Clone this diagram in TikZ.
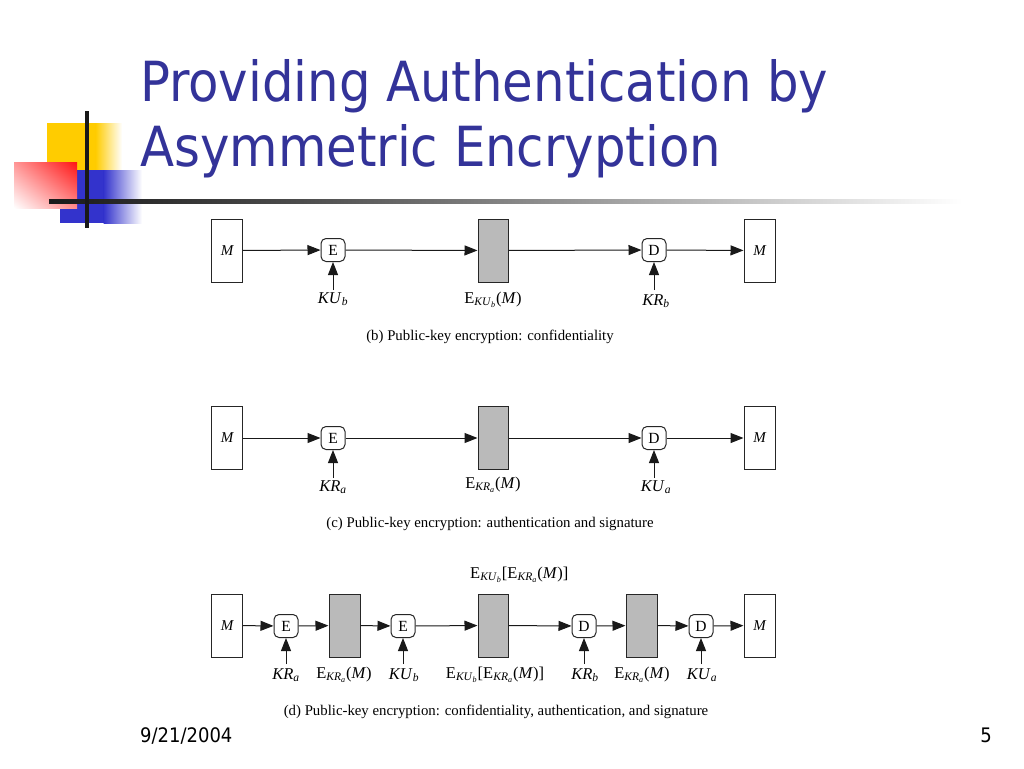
\documentclass[tikz,border=0pt]{standalone}
\usepackage{fontspec}
\setmainfont{Liberation Serif}
\newfontfamily\tahoma{DejaVu Sans Condensed}
\usetikzlibrary{arrows.meta,shadings}
\definecolor{titleblue}{RGB}{51,51,153}
\definecolor{decoyellow}{RGB}{255,204,0}
\definecolor{decoblue}{RGB}{51,51,204}
\definecolor{decored}{RGB}{255,20,20}
\newcommand\ii[1]{\textit{#1}}
\newcommand\sbs[1]{\textsubscript{#1}}
\tikzset{
  x=1pt, y=-1pt,
  msgbox/.style={draw=black!85, line width=1pt, minimum width=31pt, minimum height=63pt, inner sep=0pt, font=\fontsize{15}{15}\selectfont\itshape},
  cipher/.style={draw=black!85, line width=1pt, fill=black!27, minimum width=30pt, minimum height=63pt, inner sep=0pt},
  opnode/.style={draw=black!85, line width=1pt, fill=white, rounded corners=5pt, minimum width=24pt, minimum height=23pt, inner sep=0pt, font=\fontsize{15.5}{15}\selectfont},
  keylab/.style={anchor=base, font=\fontsize{16.5}{16}\selectfont, inner sep=0pt},
  caption/.style={anchor=base, font=\fontsize{14.8}{15}\selectfont, inner sep=0pt},
  flow/.style={draw=black!90, line width=1pt, -{Triangle[length=13pt,width=10pt]}},
}
\begin{document}
\begin{tikzpicture}
\useasboundingbox (0,0) rectangle (1024,768);
\fill[white] (0,0) rectangle (1024,768);
% decoration
\fill[decoyellow] (47,123) rectangle (96,170);
\shade[left color=decoyellow, right color=white] (95.5,123) rectangle (122,170);
\fill[decoblue] (60,170) rectangle (104,223);
\shade[left color=decoblue, right color=white] (103.5,170) rectangle (142,223);
\shade[upper left=decored!45!white, upper right=decored, lower left=white, lower right=decored!50!white] (14,162) rectangle (77,208);
\shade[left color=black!90, right color=black!70] (49,199) rectangle (300,203);
\shade[left color=black!70, right color=white] (299.5,199) rectangle (962,203);
\fill[black!90] (85,111) rectangle (89,228);
% title
\node[anchor=base west, inner sep=0pt, text=titleblue, font=\tahoma\fontsize{55.3}{55}\selectfont] (t1) at (140,101) {Providing Authentication by};
\node[anchor=base west, inner sep=0pt, text=titleblue, font=\tahoma\fontsize{55.3}{55}\selectfont] (t2) at (140,166) {Asymmetric Encryption};
\node[anchor=base west, inner sep=0pt, font=\tahoma\fontsize{20}{20}\selectfont] (date) at (140,742) {9/21/2004};
\node[anchor=base east, inner sep=0pt, font=\tahoma\fontsize{20}{20}\selectfont] (page) at (992,742) {5};

% (b)
\node[msgbox] (bm1) at (227,250.5) {M};
\node[opnode] (be) at (333,250) {E};
\node[cipher] (bc) at (493,250.5) {};
\node[opnode] (bd) at (654,250) {D};
\node[msgbox] (bm2) at (759.5,250.5) {M};
\coordinate (bk1) at (333,290);
\coordinate (bk2) at (654,290);
\draw[flow] (bm1) -- (be);
\draw[flow] (be) -- (bc);
\draw[flow] (bc) -- (bd);
\draw[flow] (bd) -- (bm2);
\draw[flow] (bk1) -- (be);
\draw[flow] (bk2) -- (bd);
\node[keylab] (bl1) at (333,303) {\ii{KU}\sbs{\ii{b}}};
\node[keylab] (bl2) at (493,303) {E\sbs{\ii{KU}\sbs{\ii{b}}}(\ii{M})};
\node[keylab] (bl3) at (656,305) {\ii{KR}\sbs{\ii{b}}};
\node[caption] (bcap) at (490,340) {(b) Public-key encryption: confidentiality};

% (c)
\node[msgbox] (cm1) at (227,438) {M};
\node[opnode] (ce) at (333,438) {E};
\node[cipher] (cc) at (493,438) {};
\node[opnode] (cd) at (654,438) {D};
\node[msgbox] (cm2) at (759.5,438) {M};
\coordinate (ck1) at (333,478);
\coordinate (ck2) at (654,478);
\draw[flow] (cm1) -- (ce);
\draw[flow] (ce) -- (cc);
\draw[flow] (cc) -- (cd);
\draw[flow] (cd) -- (cm2);
\draw[flow] (ck1) -- (ce);
\draw[flow] (ck2) -- (cd);
\node[keylab] (cl1) at (333,491) {\ii{KR}\sbs{\ii{a}}};
\node[keylab] (cl2) at (493,488) {E\sbs{\ii{KR}\sbs{\ii{a}}}(\ii{M})};
\node[keylab] (cl3) at (656,491) {\ii{KU}\sbs{\ii{a}}};
\node[caption] (ccap) at (490,527) {(c) Public-key encryption: authentication and signature};

% (d)
\node[keylab, anchor=base west] (dtop) at (470,578) {E\sbs{\ii{KU}\sbs{\ii{b}}}[E\sbs{\ii{KR}\sbs{\ii{a}}}(\ii{M})]};
\node[msgbox] (dm1) at (227,625.5) {M};
\node[opnode] (de1) at (286,626) {E};
\node[cipher, minimum width=31pt] (dc1) at (344.5,625.5) {};
\node[opnode] (de2) at (403,626) {E};
\node[cipher] (dc2) at (493,625.5) {};
\node[opnode] (dd1) at (584,626) {D};
\node[cipher, minimum width=31pt] (dc3) at (641.5,625.5) {};
\node[opnode] (dd2) at (701,626) {D};
\node[msgbox] (dm2) at (759.5,625.5) {M};
\coordinate (dk1) at (286,664);
\coordinate (dk2) at (403,664);
\coordinate (dk3) at (584,664);
\coordinate (dk4) at (701,664);
\draw[flow] (dm1) -- (de1);
\draw[flow] (de1) -- (dc1);
\draw[flow] (dc1) -- (de2);
\draw[flow] (de2) -- (dc2);
\draw[flow] (dc2) -- (dd1);
\draw[flow] (dd1) -- (dc3);
\draw[flow] (dc3) -- (dd2);
\draw[flow] (dd2) -- (dm2);
\draw[flow] (dk1) -- (de1);
\draw[flow] (dk2) -- (de2);
\draw[flow] (dk3) -- (dd1);
\draw[flow] (dk4) -- (dd2);
\node[keylab] (dl1) at (286,679) {\ii{KR}\sbs{\ii{a}}};
\node[keylab] (dl2) at (344,678) {E\sbs{\ii{KR}\sbs{\ii{a}}}(\ii{M})};
\node[keylab] (dl3) at (404,679) {\ii{KU}\sbs{\ii{b}}};
\node[keylab] (dl4) at (495,678) {E\sbs{\ii{KU}\sbs{\ii{b}}}[E\sbs{\ii{KR}\sbs{\ii{a}}}(\ii{M})]};
\node[keylab] (dl5) at (585,679) {\ii{KR}\sbs{\ii{b}}};
\node[keylab] (dl6) at (642,678) {E\sbs{\ii{KR}\sbs{\ii{a}}}(\ii{M})};
\node[keylab] (dl7) at (702,679) {\ii{KU}\sbs{\ii{a}}};
\node[caption] (dcap) at (496,715) {(d) Public-key encryption: confidentiality, authentication, and signature};
\end{tikzpicture}
\end{document}
